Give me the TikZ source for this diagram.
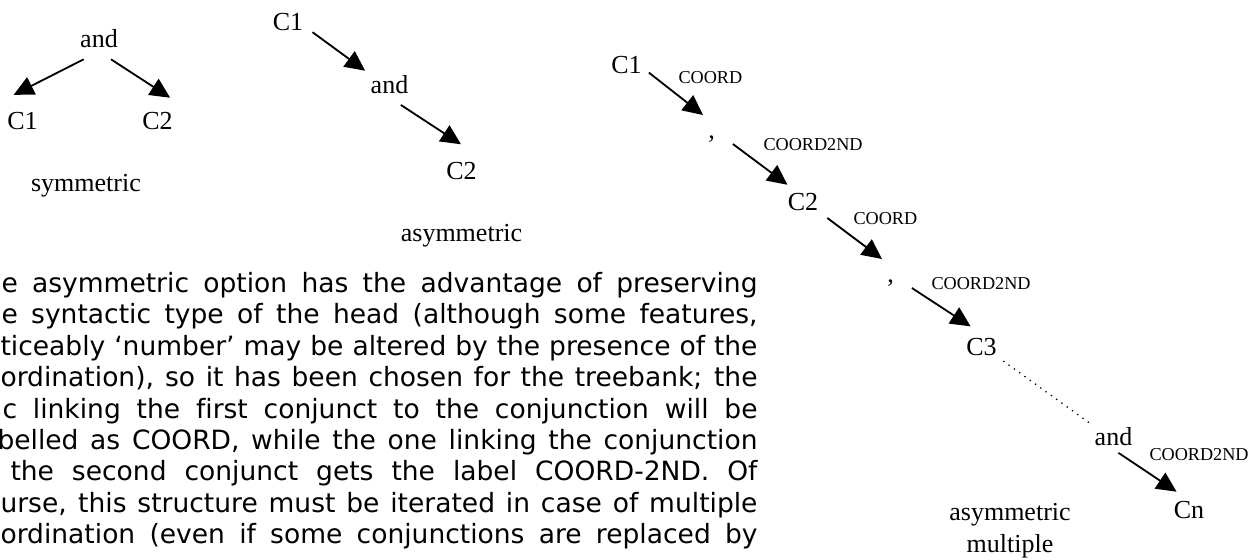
\documentclass[tikz,border=0pt]{standalone}
\usepackage{fontspec}
\newfontfamily\tnr{Liberation Serif}
\newfontfamily\vfont[Ligatures=NoCommon]{DejaVu Sans}
\usetikzlibrary{arrows.meta}
\newdimen\pxu \pxu=0.3846pt

\tikzset{
  word/.style={font=\tnr\fontsize{10}{12.3}\selectfont, inner sep=1.54pt, text height=6.54pt, text depth=0pt, anchor=base},
  punct/.style={font=\tnr\fontsize{10}{12.3}\selectfont, inner xsep=1.9pt, inner ysep=0pt, text width=7.3pt, align=left, text height=8.85pt, text depth=1.9pt, anchor=north west},
  lbl/.style={font=\tnr\fontsize{7}{8}\selectfont, inner sep=0pt, anchor=base west},
  capt/.style={font=\tnr\fontsize{10}{12.3}\selectfont, inner sep=0pt, align=center, anchor=base},
  txt/.style={font=\vfont\fontsize{10.2}{12}\selectfont, inner sep=0pt, anchor=base west},
  arr/.style={-{Triangle[length=7.7pt,width=7.3pt]}, line width=0.7pt}
}

\begin{document}
\begin{tikzpicture}
  [x=0.3846pt,y=-0.3846pt]
  \useasboundingbox (0,0) rectangle (1260,559);
  \clip (0,0) rectangle (1260,559);

  \node[word] (sand) at (99,47) {and};
  \node[word] (sc1) at (22.5,129) {C1};
  \node[word] (sc2) at (157.5,129) {C2};
  \node[capt] (scap) at (86,191) {symmetric};
  \draw[arr, shorten <=6.6pt, shorten >=10.7pt] (sand.south) -- ([xshift=-14\pxu]sc1.north west);
  \draw[arr, shorten <=5.5pt, shorten >=6.9pt] (sand.south) -- ([xshift=8\pxu]sc2.north east);

  \node[word] (ac1) at (288,30) {C1};
  \node[word] (aand) at (389.5,93) {and};
  \node[word] (ac2) at (461.5,179) {C2};
  \node[capt] (acap) at (461.5,241) {asymmetric};
  \draw[arr, shorten <=2.3pt, shorten >=0.5pt] (ac1.-20) -- (aand.north west);
  \draw[arr, shorten <=5.2pt, shorten >=9.3pt] (aand.south) -- (ac2.north east);

  \node[word] (mc1) at (626.5,73) {C1};
  \node[punct] (mcm1) at (703,115) {,};
  \node[word] (mc2) at (803,210) {C2};
  \node[punct] (mcm2) at (882,259) {,};
  \node[word] (mc3) at (981.5,355) {C3};
  \node[word] (mand) at (1113.5,445) {and};
  \node[word] (mcn) at (1189,518) {Cn};
  \node[capt] (mcap) at (1010,552) {asymmetric\\multiple};

  \node[lbl] (l1) at (678,83) {COORD};
  \node[lbl] (l2) at (763,150) {COORD2ND};
  \node[lbl] (l3) at (853,224) {COORD};
  \node[lbl] (l4) at (931,289) {COORD2ND};
  \node[lbl] (l5) at (1149,460) {COORD2ND};

  \foreach \from/\to/\s/\e in {mc1.-17/mcm1.north west/1.3/0, mcm1.south east/mc2.129/0/2.4,
      mc2.south east/mcm2.north west/2.2/0, mcm2.south east/mc3.north/0/5, mand.south/mcn.112/2.3/3.3}
    \draw[arr, shorten <=\s pt, shorten >=\e pt] (\from) -- (\to);
  \draw[dotted, line width=0.5pt, shorten <=1pt] (mc3.south east) -- (mand.north west);

  \node[txt] (p1) at (1,292) {\makebox[756\pxu][s]{e asymmetric option has the advantage of preserving}};
  \node[txt] (p2) at (1,323) {\makebox[756\pxu][s]{e syntactic type of the head (although some features,}};
  \node[txt] (p3) at (0,355) {\makebox[757\pxu][s]{ticeably ‘number’ may be altered by the presence of the}};
  \node[txt] (p4) at (0,386) {\makebox[757\pxu][s]{ordination), so it has been chosen for the treebank; the}};
  \node[txt] (p5) at (2,418) {\makebox[755\pxu][s]{c linking the first conjunct to the conjunction will be}};
  \node[txt] (p6) at (-3,449) {\makebox[760\pxu][s]{belled as COORD, while the one linking the conjunction}};
  \node[txt] (p7) at (10,480) {\makebox[747\pxu][s]{the second conjunct gets the label COORD-2ND. Of}};
  \node[txt] (p8) at (0,512) {\makebox[757\pxu][s]{urse, this structure must be iterated in case of multiple}};
  \node[txt] (p9) at (0,543) {\makebox[757\pxu][s]{ordination (even if some conjunctions are replaced by}};
\end{tikzpicture}
\end{document}
